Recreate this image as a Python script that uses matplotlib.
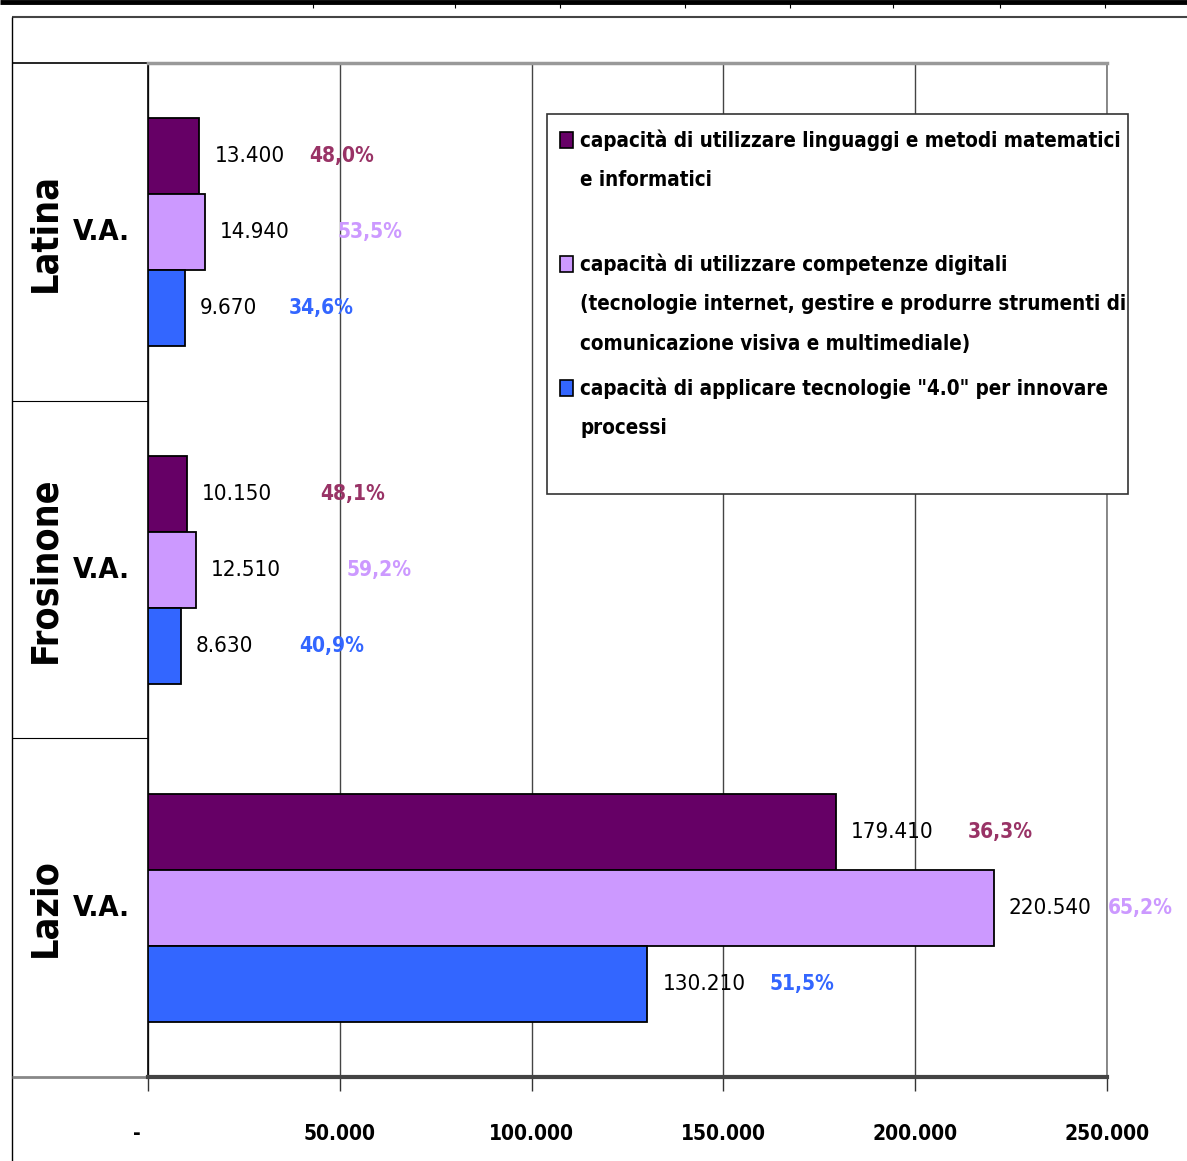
import matplotlib
matplotlib.use("Agg")
from matplotlib import pyplot as plt
from matplotlib import font_manager
from matplotlib.patches import Rectangle
from matplotlib.lines import Line2D
from matplotlib.transforms import ScaledTranslation

# data (top to bottom as in the chart)
regions = ["Latina", "Frosinone", "Lazio"]
series_labels = [
    ["capacità di utilizzare linguaggi e metodi matematici", "e informatici"],
    ["capacità di utilizzare competenze digitali",
     "(tecnologie internet, gestire e produrre strumenti di",
     "comunicazione visiva e multimediale)"],
    ["capacità di applicare tecnologie \"4.0\" per innovare", "processi"],
]
math_values = [13400, 10150, 179410]
digital_values = [14940, 12510, 220540]
tech_values = [9670, 8630, 130210]
math_pct = [48.0, 48.1, 36.3]
digital_pct = [53.5, 59.2, 65.2]
tech_pct = [34.6, 40.9, 51.5]
x_ticks = [0, 50000, 100000, 150000, 200000, 250000]
x_tick_labels = ["-", "50.000", "100.000", "150.000", "200.000", "250.000"]

bar_colors = ["#660066", "#CC99FF", "#3366FF"]
pct_colors = ["#993366", "#CC99FF", "#3366FF"]
# horizontal gap (pixels) between bar end and percentage label
pct_offsets = [[110, 132, 104], [133, 151, 118], [132, 114, 122]]

names = {f.name for f in font_manager.fontManager.ttflist}
if "Liberation Sans Narrow" in names:
    FONT = ["Liberation Sans Narrow", "DejaVu Sans"]
    STRETCH = "normal"
else:
    FONT = ["DejaVu Sans"]
    STRETCH = "condensed"
plt.rcParams["font.family"] = FONT
plt.rcParams["font.stretch"] = STRETCH

W, H = 1187, 1161
fig = plt.figure(figsize=(W / 100, H / 100), dpi=100)

# background overlay in pixel coordinates for frame lines
bg = fig.add_axes([0, 0, 1, 1], zorder=0)
bg.set_xlim(0, W)
bg.set_ylim(H, 0)
bg.axis("off")

def hline(axo, y, x0, x1, color="black", lw=1.0):
    axo.add_line(Line2D([x0, x1], [y, y], color=color, lw=lw, solid_capstyle="butt"))

def vline(axo, x, y0, y1, color="black", lw=1.0):
    axo.add_line(Line2D([x, x], [y0, y1], color=color, lw=lw, solid_capstyle="butt"))

# top thick band with small ticks
hline(bg, 2, 0, W, lw=3.5)
for tx in [313, 455, 560, 685, 790, 893, 1000, 1105]:
    vline(bg, tx, 2, 8, lw=0.8)
# outer frame
hline(bg, 17, 12, W, color="#444444", lw=1.5)
vline(bg, 12, 17, H, lw=1.0)
# left label column
hline(bg, 63, 12, 148, lw=1.2)
hline(bg, 401, 12, 148, lw=0.8)
hline(bg, 738, 12, 148, lw=0.8)
hline(bg, 1077, 12, 148, color="#888888", lw=2)

# main axes
ax = fig.add_axes([148 / W, 1 - 1077 / H, (1107 - 148) / W, (1077 - 63) / H], zorder=1)
ax.set_facecolor("none")
ypos = [2, 1, 0]
bh = 0.225
series = [math_values, digital_values, tech_values]
pcts = [math_pct, digital_pct, tech_pct]
for s in range(3):
    ys = [y + (1 - s) * bh for y in ypos]
    ax.barh(ys, series[s], height=bh, color=bar_colors[s], edgecolor="black",
            linewidth=1.3, zorder=3)
    for r in range(3):
        v = series[s][r]
        ax.annotate(f"{v:,}".replace(",", "."), (v, ys[r]), xytext=(15, 0),
                    textcoords="offset pixels", ha="left", va="center",
                    fontsize=16, color="black", zorder=4)
        ax.annotate(f"{pcts[s][r]:.1f}%".replace(".", ","), (v, ys[r]),
                    xytext=(pct_offsets[r][s], 0), textcoords="offset pixels",
                    ha="left", va="center", fontsize=15, fontweight="bold",
                    color=pct_colors[s], zorder=4, annotation_clip=False)

ax.set_xlim(0, 250000)
ax.set_ylim(-0.5, 2.5)
ax.set_xticks(x_ticks)
ax.set_xticklabels(x_tick_labels, fontsize=15, fontweight="bold")
ax.set_yticks([])
ax.tick_params(axis="x", length=10, width=1, color="#333333", pad=24)
ax.xaxis.grid(True, color="#444444", lw=1)
ax.axvline(250000, color="#777777", lw=1.2, clip_on=False, zorder=1)
ax.set_axisbelow(True)
ax.spines["right"].set_visible(False)
ax.spines["top"].set_color("#999999")
ax.spines["top"].set_linewidth(2.5)
ax.spines["bottom"].set_color("#444444")
ax.spines["bottom"].set_linewidth(3)
ax.spines["left"].set_color("black")
ax.spines["left"].set_linewidth(1.2)

# shift "-" tick label to the left like the original
lab0 = ax.get_xticklabels()[0]
lab0.set_transform(lab0.get_transform() + ScaledTranslation(-11 / 100, 0, fig.dpi_scale_trans))

# category labels in the left column
for r, name in enumerate(regions):
    ax.text(-103 / 959, ypos[r], name, transform=ax.get_yaxis_transform(),
            rotation=90, ha="center", va="center", fontsize=27, fontweight="bold")
    ax.text(-47 / 959, ypos[r], "V.A.", transform=ax.get_yaxis_transform(),
            ha="center", va="center", fontsize=21, fontweight="bold")

# legend drawn on top in pixel coordinates
fg = fig.add_axes([0, 0, 1, 1], zorder=2)
fg.set_xlim(0, W)
fg.set_ylim(H, 0)
fg.axis("off")
fg.add_patch(Rectangle((547, 114), 581, 380, facecolor="white", edgecolor="#333333", lw=1.2))
entry_y = [140, 264, 388]
for s in range(3):
    fg.add_patch(Rectangle((560, entry_y[s] - 8), 13, 16, facecolor=bar_colors[s],
                           edgecolor="black", lw=1.2))
    for j, line in enumerate(series_labels[s]):
        fg.text(580, entry_y[s] + j * 40, line, ha="left", va="center",
                fontsize=14.8, fontweight="bold")

fig.savefig("out.png", dpi=100)
